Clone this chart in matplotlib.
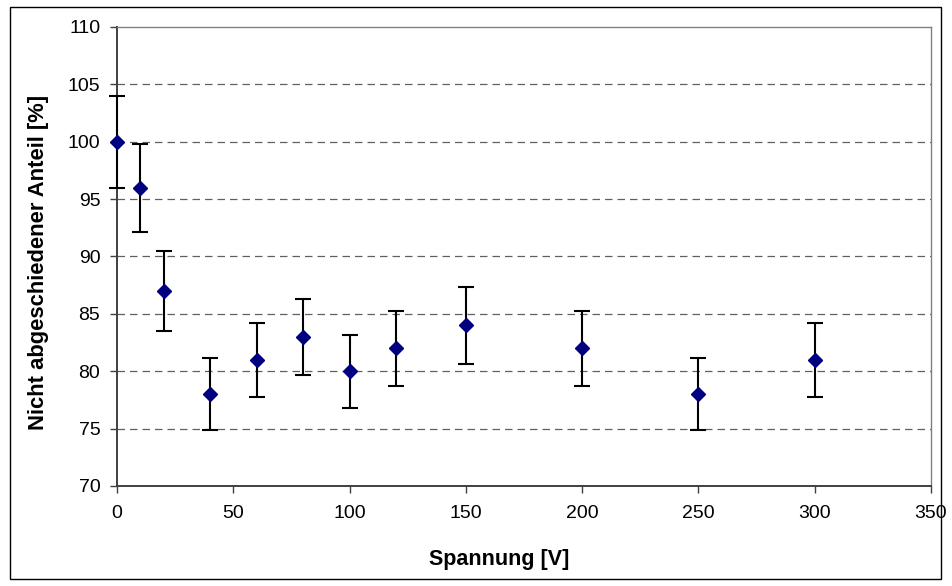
import numpy as np
import matplotlib.pyplot as plt
from matplotlib.patches import Rectangle

plt.rcParams['font.family'] = ['Liberation Sans', 'DejaVu Sans']

# data
spannung = [0, 10, 20, 40, 60, 80, 100, 120, 150, 200, 250, 300]
anteil = [100, 96, 87, 78, 81, 83, 80, 82, 84, 82, 78, 81]
fehler = [4.0, 3.84, 3.48, 3.12, 3.24, 3.32, 3.2, 3.28, 3.36, 3.28, 3.12, 3.24]

fig = plt.figure(figsize=(9.52, 5.86), dpi=100)
ax = fig.add_axes([117/952, 100/586, 814/952, 459/586])

# outer chart border
fig.patches.append(Rectangle((10/952, 7/586), 931/952, 572/586, transform=fig.transFigure,
                             fill=False, edgecolor='black', lw=1))

markers, caps, bars = ax.errorbar(spannung, anteil, yerr=fehler, fmt='D', color='#000080',
                                  markersize=7.5, ecolor='black', elinewidth=1.5,
                                  capsize=5.5, capthick=1.5, zorder=3)
markers.set_clip_on(False)
for c in caps:
    c.set_clip_on(False)
for b in bars:
    b.set_clip_on(False)

ax.set_xlim(0, 350)
ax.set_ylim(70, 110)
ax.set_xticks(np.arange(0, 351, 50))
ax.set_yticks(np.arange(70, 111, 5))
ax.tick_params(direction='out', length=5, width=1, colors='#404040', labelcolor='black',
               labelsize=14)
ax.tick_params(axis='y', pad=7)
ax.tick_params(axis='x', pad=9)
for y in range(75, 110, 5):
    ax.axhline(y, color='#606060', ls=(0, (6, 4)), lw=0.9, zorder=1)

for s in ['left', 'bottom']:
    ax.spines[s].set_color('#404040')
    ax.spines[s].set_linewidth(1.4)
for s in ['top', 'right']:
    ax.spines[s].set_color('#808080')
    ax.spines[s].set_linewidth(1)

fig.text(499/952, 1 - 560/586, 'Spannung [V]', fontsize=15.5, fontweight='bold',
         ha='center', va='center')
fig.text(39/952, 1 - 262/586, 'Nicht abgeschiedener Anteil [%]', fontsize=15.8,
         fontweight='bold', rotation=90, ha='center', va='center')

fig.savefig('out.png', dpi=100)
